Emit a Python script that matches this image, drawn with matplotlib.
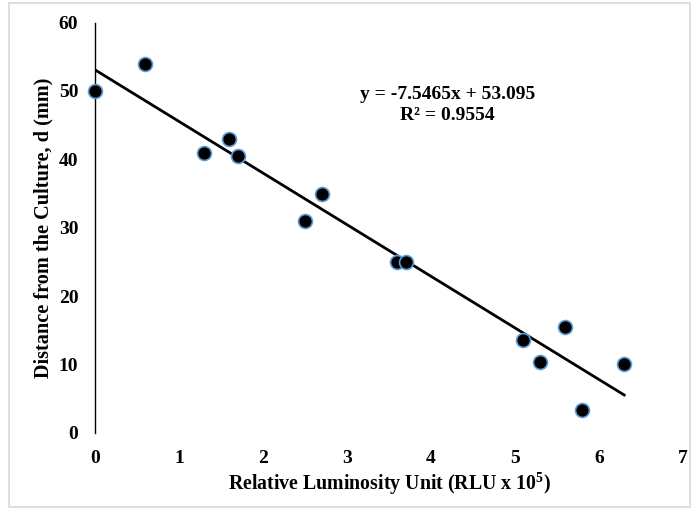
import matplotlib
matplotlib.use("Agg")
import matplotlib.pyplot as plt
from matplotlib.patches import Rectangle
import numpy as np

rlu = [0.0, 0.6, 1.3, 1.6, 1.7, 2.5, 2.7, 3.6, 3.7, 5.1, 5.3, 5.6, 5.8, 6.3]
distance = [50, 54, 41, 43, 40.5, 31, 35, 25, 25, 13.6, 10.4, 15.5, 3.4, 10.1]
slope = -7.5465
intercept = 53.095
r2 = 0.9554
xticks = [0, 1, 2, 3, 4, 5, 6, 7]
yticks = [0, 10, 20, 30, 40, 50, 60]

plt.rcParams['font.family'] = ['Liberation Serif', 'DejaVu Serif']
plt.rcParams['font.weight'] = 'bold'
plt.rcParams['mathtext.fontset'] = 'custom'
plt.rcParams['mathtext.rm'] = 'Liberation Serif:bold'
plt.rcParams['mathtext.bf'] = 'Liberation Serif:bold'
plt.rcParams['mathtext.it'] = 'Liberation Serif:bold'

fig = plt.figure(figsize=(6.98, 5.13), dpi=100)
ax = fig.add_axes([0.136, 0.156, 0.8425, 0.8])

ax.scatter(rlu, distance, s=100, color='black', edgecolors='#5B9BD5', linewidths=1.2,
           zorder=3, clip_on=False)
xf = np.array([min(rlu), max(rlu)])
ax.plot(xf, slope * xf + intercept, color='black', lw=2, zorder=2)

ax.set_xlim(0, 7)
ax.set_ylim(0, 60)
ax.set_xticks(xticks)
ax.set_yticks(yticks)
ax.tick_params(length=0, labelsize=14)
ax.tick_params(axis='x', pad=12)
ax.tick_params(axis='y', pad=12)
for lab in ax.get_xticklabels() + ax.get_yticklabels():
    lab.set_fontweight('bold')
for s in ['top', 'right', 'bottom']:
    ax.spines[s].set_visible(False)
ax.spines['left'].set_linewidth(1.0)

ax.set_xlabel('Relative Luminosity Unit (RLU x 10$^{5}$)', fontsize=14.3, fontweight='bold', labelpad=3)
ax.set_ylabel('Distance from the Culture, d (mm)', fontsize=14.6, fontweight='bold', labelpad=4)

ax.text(4.2, 48.0, f'y = {slope}x + {intercept}\nR² = {r2}', ha='center', va='center',
        fontsize=14, fontweight='bold', linespacing=1.3)

fig.patches.append(Rectangle((0.013, 0.012), 0.975, 0.982, transform=fig.transFigure,
                             fill=False, edgecolor='#d9d9d9', lw=1.2))

fig.savefig('out.png', dpi=100)
